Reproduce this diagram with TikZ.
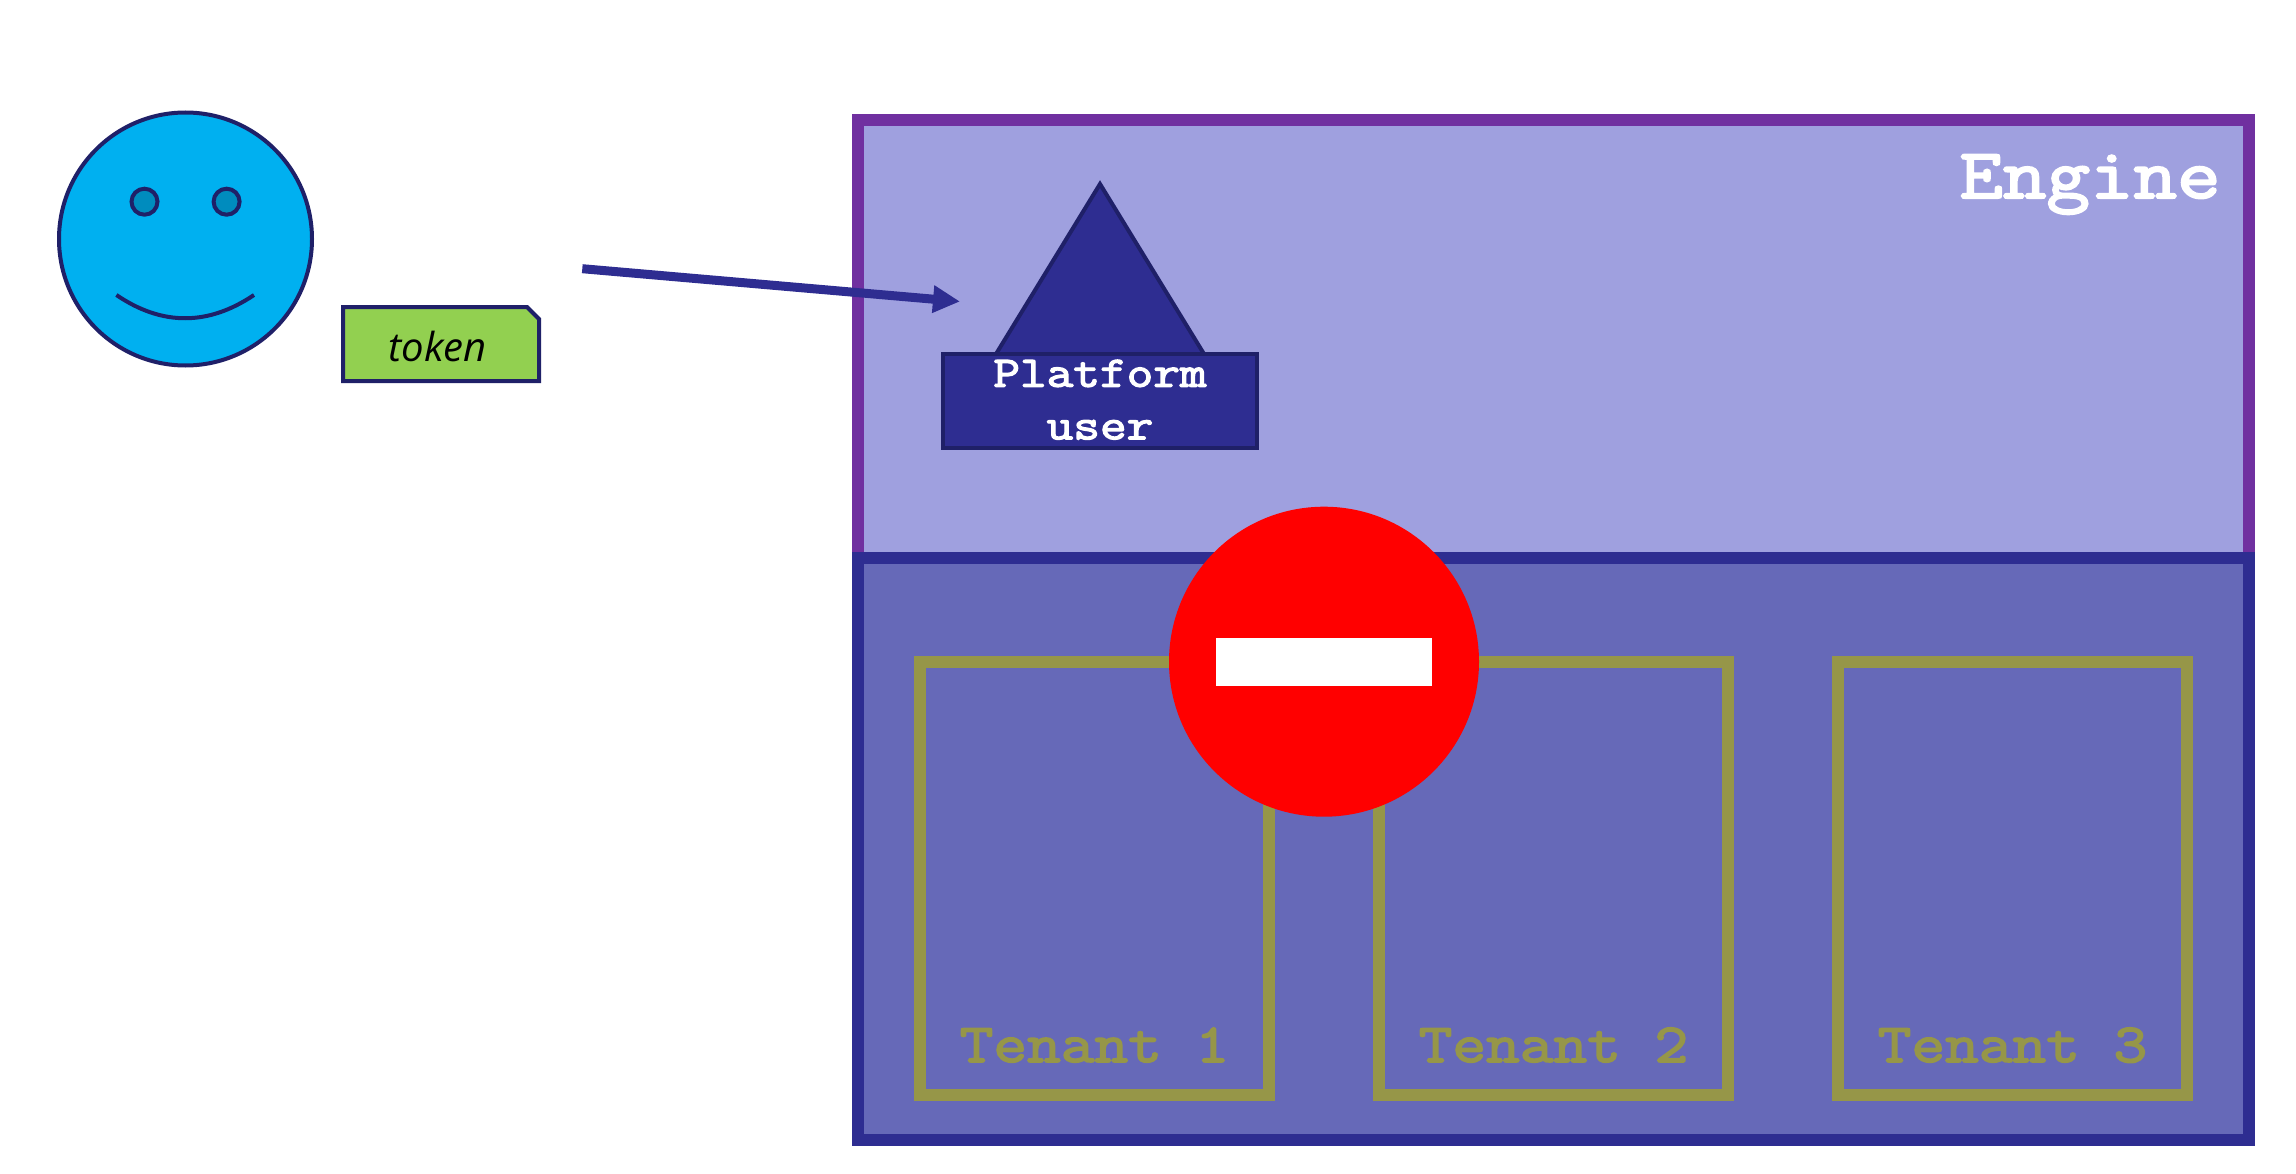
\documentclass[tikz,border=0pt]{standalone}
\usepackage{fontspec}
\usetikzlibrary{arrows.meta,calc}
\setmainfont{Liberation Sans}
\newfontfamily\tokenfam{Open Sans}
\newfontfamily\slabfam[FakeStretch=1.19,FakeBold=3]{Latin Modern Mono}
\newcommand{\slabfont}[2]{\slabfam\fontsize{#1}{#2}\selectfont}
\definecolor{engfill}{HTML}{9FA0DF}
\definecolor{engline}{HTML}{7030A0}
\definecolor{tenfill}{HTML}{6669B8}
\definecolor{navy}{HTML}{2E2D91}
\definecolor{darkline}{HTML}{1F2068}
\definecolor{olive}{HTML}{969648}
\definecolor{skyface}{HTML}{00B0F0}
\definecolor{eyefill}{HTML}{008CBE}
\definecolor{tokgreen}{HTML}{92D050}
\tikzset{
  boxbase/.style={rectangle,inner sep=0pt,outer sep=0pt,line width=12pt,miter limit=10},
  enginebox/.style={boxbase,draw=engline,fill=engfill},
  tenantsbox/.style={boxbase,draw=navy,fill=tenfill},
  tenantbox/.style={boxbase,draw=olive,minimum width=349pt,minimum height=433pt},
  tenantlabel/.style={anchor=base,inner sep=0pt,outer sep=0pt,text=olive,font={\slabfont{55}{60}}},
  engtext/.style={anchor=base,inner sep=0pt,outer sep=0pt,text=white,font={\slabfont{71}{76}}},
  userlabel/.style={rectangle,inner sep=0pt,outer sep=0pt,draw=darkline,fill=navy,line width=4pt},
  usertext/.style={anchor=base,inner sep=0pt,outer sep=0pt,text=white,align=center,font={\slabfont{43.5}{52.6}}},
  facecirc/.style={circle,inner sep=0pt,outer sep=0pt,draw=darkline,fill=skyface,line width=4pt,minimum size=253pt},
  eyecirc/.style={circle,inner sep=0pt,outer sep=0pt,draw=darkline,fill=eyefill,line width=4pt,minimum size=26pt},
  darkstroke/.style={draw=darkline,line width=4pt},
}
\begin{document}
\begin{tikzpicture}[x=1pt,y=-1pt]
\useasboundingbox (0,0) rectangle (2296,1174);
% engine and tenants areas
\node[enginebox,minimum width=1391pt,minimum height=438pt] (engine) at (1553.5,339) {};
\node[tenantsbox,minimum width=1391pt,minimum height=582pt] (tenants) at (1553.5,849) {};
\node[engtext] (enginelabel) at (2090,198) {Engine};
% tenant boxes
\node[tenantbox] (t1) at (1094.5,878.5) {};
\node[tenantbox] (t2) at (1553.5,878.5) {};
\node[tenantbox] (t3) at (2012.5,878.5) {};
\node[tenantlabel] (t1l) at (1094.5,1062) {Tenant 1};
\node[tenantlabel] (t2l) at (1553.5,1062) {Tenant 2};
\node[tenantlabel] (t3l) at (2012.5,1062) {Tenant 3};
% platform user
\filldraw[darkstroke,fill=navy,miter limit=10] (1100,184) -- (1204,354) -- (996,354) -- cycle;
\node[userlabel,minimum width=314pt,minimum height=94pt] (userbox) at (1100,401) {};
\node[usertext] (usertxt) at (1100,439.3) {Platform\\user};
% smiley
\node[facecirc] (face) at (185.5,239) {};
\node[eyecirc] (eyel) at (144.5,201.7) {};
\node[eyecirc] (eyer) at (226.6,201.7) {};
\draw[darkstroke] (116.4,295) .. controls (162,326) and (208,326) .. (254,295);
% token
\filldraw[darkstroke,fill=tokgreen] (343,307) -- (527,307) -- (539,319) -- (539,381) -- (343,381) -- cycle;
\node[anchor=base,inner sep=0pt,outer sep=0pt,font=\tokenfam\itshape\fontsize{40}{44}\selectfont] (token) at (437.6,361.5) {token};
% arrow
\coordinate (arrowstart) at (582.3,268.7);
\coordinate (arrowend) at (960,301.5);
\draw[navy,line width=9pt,-{Triangle[length=27pt,width=26pt]}] (arrowstart) -- (arrowend);
% no entry
\node[circle,fill=red,inner sep=0pt,outer sep=0pt,minimum size=310pt] (noentry) at (1324,661.7) {};
\node[rectangle,fill=white,inner sep=0pt,outer sep=0pt,minimum width=216pt,minimum height=48pt] (bar) at (1324,661.7) {};
\end{tikzpicture}
\end{document}
